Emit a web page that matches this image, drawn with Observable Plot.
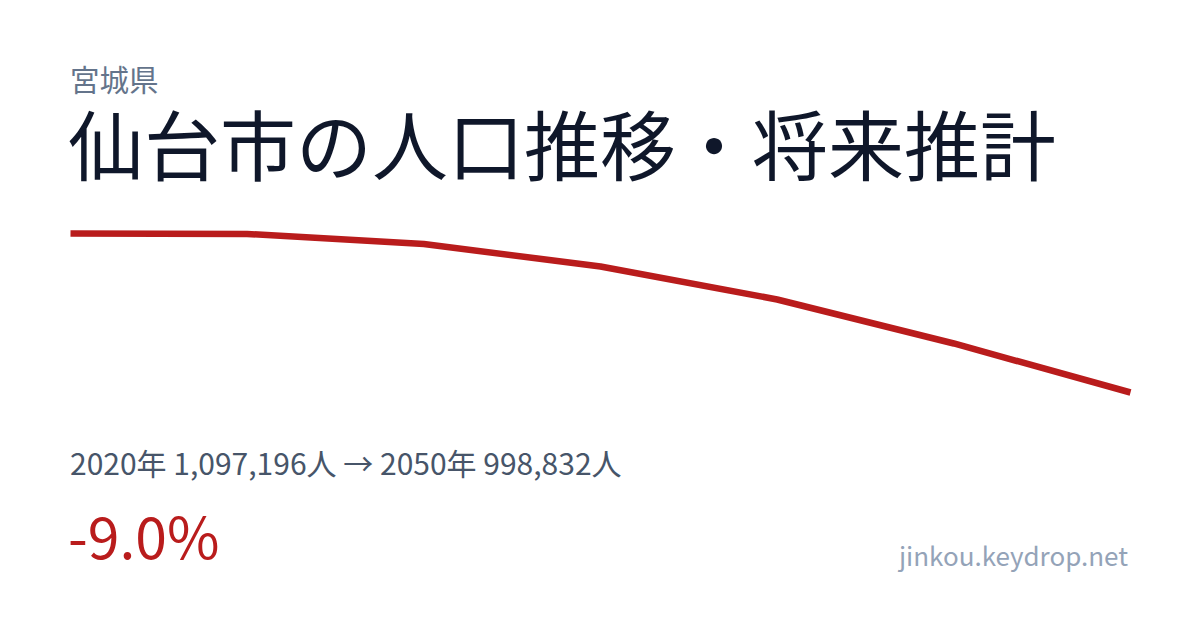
<!DOCTYPE html>
<html>
<head>
<meta charset="utf-8">
<script src="https://cdn.jsdelivr.net/npm/d3@7"></script>
<script src="https://cdn.jsdelivr.net/npm/@observablehq/plot@0.6"></script>
<style>
  html, body { margin: 0; padding: 0; background: #ffffff; }
  body { width: 1200px; height: 630px; position: relative; overflow: hidden;
         font-family: "Noto Sans CJK JP", "Noto Sans", sans-serif; }
  .t { position: absolute; line-height: 1; white-space: nowrap; }
  #pref { left: 70px; top: 64px; font-size: 29.5px; color: #64748b; line-height: 0.95; }
  #title { left: 68px; top: 106px; font-size: 76px; color: #0f172a; line-height: 0.95; }
  #stats { left: 70px; top: 447px; font-size: 30px; color: #475569; }
  #pct { left: 68px; top: 506px; font-size: 57px; color: #b91c1c; }
  #url { right: 72px; top: 542px; font-size: 26px; color: #94a3b8; }
  #chart { position: absolute; left: 0; top: 200px; }
</style>
</head>
<body>
<div class="t" id="pref">宮城県</div>
<div class="t" id="title">仙台市の人口推移・将来推計</div>
<div id="chart"></div>
<div class="t" id="stats">2020年 1,097,196人 → 2050年 998,832人</div>
<div class="t" id="pct">-9.0%</div>
<div class="t" id="url">jinkou.keydrop.net</div>
<script>
const years = [2020, 2025, 2030, 2035, 2040, 2045, 2050];
const population = [1097196, 1096900, 1090700, 1076780, 1056370, 1029150, 998832];

const data = years.map((year, i) => ({year, population: population[i]}));

const chart = Plot.plot({
  width: 1200,
  height: 230,
  marginLeft: 70,
  marginRight: 70,
  marginTop: 33,
  marginBottom: 38,
  x: {domain: d3.extent(years), axis: null},
  y: {domain: d3.extent(population), axis: null},
  marks: [
    Plot.line(data, {x: "year", y: "population", stroke: "#b91c1c", strokeWidth: 6.5, strokeLinejoin: "miter", strokeLinecap: "butt"})
  ]
});
document.getElementById("chart").appendChild(chart);
</script>
</body>
</html>
